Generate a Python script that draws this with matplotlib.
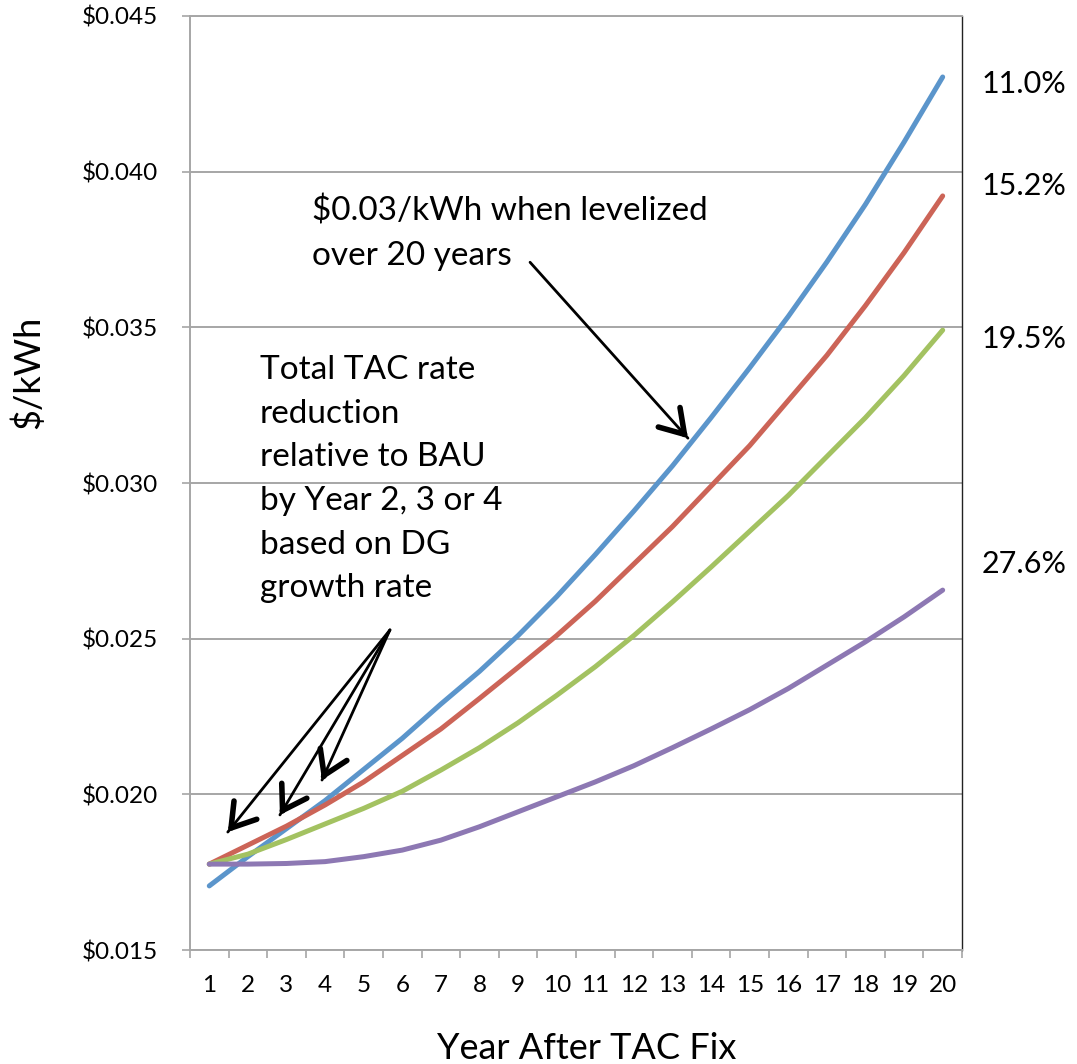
import matplotlib
matplotlib.use("Agg")
import matplotlib.pyplot as plt
from matplotlib.ticker import FixedLocator, FuncFormatter

plt.rcParams['font.family'] = ['Lato', 'DejaVu Sans']

# Levelized TAC rate by year after the fix ($/kWh)
years = list(range(1, 21))
bau_blue = [0.01706, 0.01800, 0.01890, 0.01980, 0.02080, 0.02180, 0.02290, 0.02395,
            0.02510, 0.02635, 0.02770, 0.02910, 0.03055, 0.03210, 0.03370, 0.03535,
            0.03710, 0.03895, 0.04095, 0.04304]
red_vals = [0.01776, 0.01837, 0.01898, 0.01966, 0.02040, 0.02125, 0.02210, 0.02308,
            0.02408, 0.02510, 0.02620, 0.02740, 0.02860, 0.02990, 0.03120, 0.03265,
            0.03410, 0.03570, 0.03740, 0.03922]
green_vals = [0.01776, 0.01808, 0.01855, 0.01905, 0.01955, 0.02010, 0.02078, 0.02150,
              0.02230, 0.02318, 0.02410, 0.02510, 0.02618, 0.02730, 0.02845, 0.02960,
              0.03085, 0.03210, 0.03345, 0.03491]
purple_vals = [0.01776, 0.01776, 0.01778, 0.01784, 0.01800, 0.01821, 0.01853, 0.01896,
               0.01944, 0.01992, 0.02040, 0.02092, 0.02150, 0.02210, 0.02272, 0.02340,
               0.02415, 0.02490, 0.02570, 0.02656]

series = [bau_blue, red_vals, green_vals, purple_vals]
colors = ['#5b95cb', '#cc6457', '#a3c261', '#8d78b3']
pct_labels = ['11.0%', '15.2%', '19.5%', '27.6%']
pct_y = [0.04282, 0.03954, 0.03463, 0.02740]

y_ticks = [0.015, 0.020, 0.025, 0.030, 0.035, 0.040, 0.045]

fig = plt.figure(figsize=(10.77, 10.64), dpi=100)
ax = fig.add_axes([0.1764, 0.1071, 0.7168, 0.8779])

for vals, col in zip(series, colors):
    ax.plot(years, vals, color=col, lw=3.6, solid_capstyle='round', zorder=3)

ax.set_xlim(0.5, 20.5)
ax.set_ylim(0.015, 0.045)

# y axis: dollar labels with gridlines
ax.yaxis.set_major_locator(FixedLocator(y_ticks))
ax.yaxis.set_major_formatter(FuncFormatter(lambda v, p: r"\$%.3f" % v))
ax.grid(axis='y', color='#a6a6a6', lw=1.4, zorder=1)
ax.tick_params(axis='y', length=6, width=1.2, color='#a6a6a6', pad=17, labelsize=17.5)

# x axis: category labels at centers, tick marks at boundaries
ax.set_xticks(years)
ax.set_xticklabels([str(y) for y in years])
ax.set_xticks([x + 0.5 for x in range(0, 21)], minor=True)
ax.tick_params(axis='x', which='major', length=0, pad=18, labelsize=17.5)
ax.tick_params(axis='x', which='minor', length=6, width=1.2, color='#a6a6a6')

for side in ['left', 'bottom', 'top']:
    ax.spines[side].set_color('#a6a6a6')
    ax.spines[side].set_linewidth(1.4)
ax.spines['right'].set_color('#222222')
ax.spines['right'].set_linewidth(1.0)

# axis titles placed where the original puts them
fig.text(28 / 1077, 1 - 372 / 1064, r"\$/kWh", rotation=90, fontsize=26,
         ha='center', va='center')
fig.text(587 / 1077, 5 / 1064, "Year After TAC Fix", fontsize=26,
         ha='center', va='baseline')

# growth-rate percentages to the right of the plot
for lab, yv in zip(pct_labels, pct_y):
    ax.text(1.026, yv, lab, transform=ax.get_yaxis_transform(), fontsize=22,
            va='center', ha='left')

# annotations
ax.text(2.31, 0.03411, "Total TAC rate\nreduction\nrelative to BAU\nby Year 2, 3 or 4\nbased on DG\ngrowth rate",
        fontsize=24, va='top', ha='left', linespacing=1.57)
ax.text(3.66, 0.03922, r"\$0.03/kWh when levelized" + "\nover 20 years",
        fontsize=24, va='top', ha='left', linespacing=1.57)


def draw_arrow(start, tip):
    # thin shaft plus a heavier open head, as in the original callouts
    ax.annotate('', xy=tip, xytext=start, zorder=4,
                arrowprops=dict(arrowstyle='-', lw=2, color='black',
                                shrinkA=0, shrinkB=0))
    near = (tip[0] + (start[0] - tip[0]) * 0.03, tip[1] + (start[1] - tip[1]) * 0.03)
    ax.annotate('', xy=tip, xytext=near, zorder=4,
                arrowprops=dict(arrowstyle='->, head_length=0.55, head_width=0.35',
                                lw=4, color='black', mutation_scale=30,
                                shrinkA=0, shrinkB=0))


draw_arrow((9.31, 0.03709), (13.4, 0.03144))
for tip in [(1.48, 0.01879), (2.83, 0.01934), (3.92, 0.02046)]:
    draw_arrow((5.68, 0.02528), tip)

fig.savefig('out.png', dpi=100)
